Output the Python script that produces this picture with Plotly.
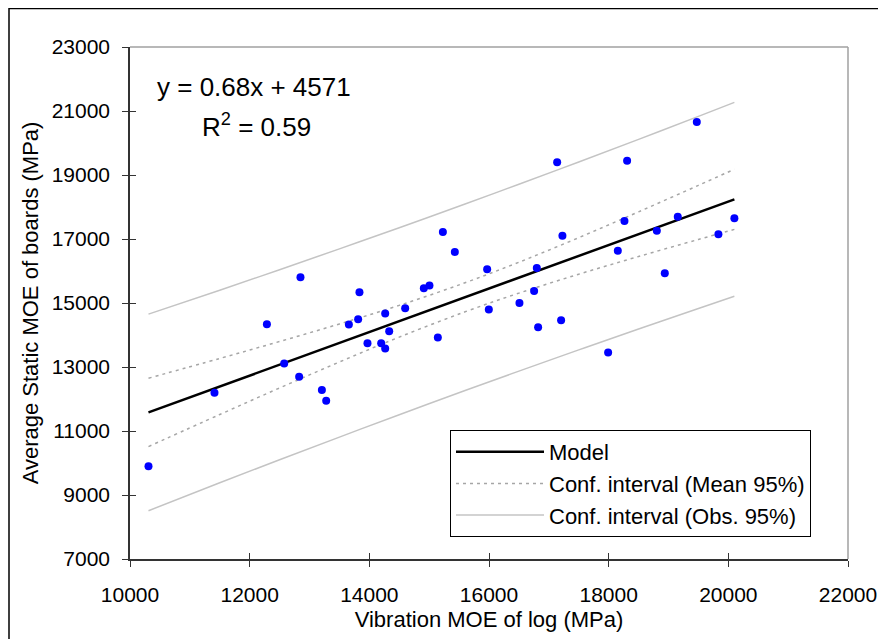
import plotly.graph_objects as go

vib_moe = [10309, 11412, 12288, 12577, 12827, 12849, 13835, 13207, 13279, 13658,
           13813, 13969, 14198, 14265, 14265, 14332, 14599, 14911, 15005, 15145,
           15229, 15429, 15969, 15997, 16509, 16754, 16799, 16821, 17139, 17205,
           17227, 18308, 19473, 18264, 18153, 18805, 19155, 18938, 19834, 20101, 17991]
static_moe = [9895, 12195, 14338, 13109, 12694, 15805, 15337, 12279, 11945, 14326,
              14494, 13745, 13745, 13577, 14669, 14120, 14837, 15461, 15543, 13920,
              17218, 16594, 16054, 14794, 15003, 15377, 16095, 14245, 19402, 14463,
              17103, 19443, 20659, 17561, 16635, 17259, 17695, 15929, 17146, 17645, 13452]

# Model line
model_x = [10309, 20101]
model_y = [11581, 18240]

# Confidence interval curves
ci_x = [10309, 11500, 12500, 13500, 14500, 15600, 16500, 17500, 18500, 19500, 20101]
mean_upper = [12649, 13267, 13797, 14345, 14927, 15633, 16274, 17042, 17849, 18676, 19180]
mean_lower = [10513, 11515, 12345, 13157, 13935, 14725, 15308, 15900, 16453, 16986, 17300]
obs_upper = [14653, 15401, 16041, 16692, 17353, 18094, 18711, 19407, 20114, 20832, 21269]
obs_lower = [8509, 9381, 10101, 10810, 11509, 12264, 12871, 13535, 14188, 14830, 15211]

x_ticks = [10000, 12000, 14000, 16000, 18000, 20000, 22000]
x_tick_text = ["10000", "12000", "14000", "16000", "18000", "20000", "22000"]
y_ticks = [7000, 9000, 11000, 13000, 15000, 17000, 19000, 21000, 23000]
y_tick_text = ["7000", "9000", "11000", "13000", "15000", "17000", "19000", "21000", "23000"]

FONT = "Liberation Sans, Arial, sans-serif"

fig = go.Figure()

obs_style = dict(color="#c4c4c4", width=1.5)
mean_style = dict(color="#a6a6a6", width=1.5, dash="3px,4px")

fig.add_trace(go.Scatter(x=ci_x, y=obs_upper, mode="lines", line=obs_style,
                         name="Conf. interval (Obs. 95%)", legendgroup="obs",
                         legendrank=3, line_shape="spline"))
fig.add_trace(go.Scatter(x=ci_x, y=obs_lower, mode="lines", line=obs_style,
                         name="Conf. interval (Obs. 95%)", legendgroup="obs",
                         showlegend=False, line_shape="spline"))
fig.add_trace(go.Scatter(x=ci_x, y=mean_upper, mode="lines", line=mean_style,
                         name="Conf. interval (Mean 95%)", legendgroup="mean",
                         legendrank=2, line_shape="spline"))
fig.add_trace(go.Scatter(x=ci_x, y=mean_lower, mode="lines", line=mean_style,
                         name="Conf. interval (Mean 95%)", legendgroup="mean",
                         showlegend=False, line_shape="spline"))
fig.add_trace(go.Scatter(x=model_x, y=model_y, mode="lines",
                         line=dict(color="black", width=2.5),
                         name="Model", legendrank=1))
# data points on the overlay axes (which also draw the inner half of the cross ticks)
fig.add_trace(go.Scatter(x=vib_moe, y=static_moe, mode="markers", xaxis="x2", yaxis="y2",
                         marker=dict(color="#0000ff", size=8),
                         showlegend=False, name="Data"))

axis_common = dict(showgrid=False, zeroline=False, showline=True,
                   linecolor="#333333", linewidth=1.5,
                   ticks="outside", ticklen=6, tickcolor="#333333", tickwidth=1,
                   tickfont=dict(family=FONT, size=21, color="black"))

L, R, T, B = 122, 46, 39, 88
W, H = 886, 639
pw, ph = W - L - R, H - T - B

fig.update_layout(
    width=W, height=H,
    margin=dict(l=L, r=R, t=T, b=B, autoexpand=False),
    paper_bgcolor="white", plot_bgcolor="white",
    font=dict(family=FONT, size=21, color="black"),
    xaxis=dict(range=[10000, 22000], tickvals=x_ticks, ticktext=x_tick_text,
               title=dict(text="Vibration MOE of log (MPa)", font=dict(size=22), standoff=7),
               ticklabelstandoff=10,
               **axis_common),
    yaxis=dict(range=[7000, 23000], tickvals=y_ticks, ticktext=y_tick_text,
               title=dict(text="Average Static MOE of boards (MPa)", font=dict(size=22), standoff=7),
               ticklabelstandoff=8,
               **axis_common),
    xaxis2=dict(range=[10000, 22000], tickvals=x_ticks, overlaying="x", side="bottom",
                showgrid=False, zeroline=False, showline=False, ticks="inside", ticklen=6,
                tickcolor="#333333", showticklabels=False),
    yaxis2=dict(range=[7000, 23000], tickvals=y_ticks, overlaying="y", side="left",
                showgrid=False, zeroline=False, showline=False, ticks="inside", ticklen=6,
                tickcolor="#333333", showticklabels=False),
    legend=dict(x=(442 - L) / pw, y=1 - (422 - T) / ph, xanchor="left", yanchor="top",
                bordercolor="black", borderwidth=1, bgcolor="white",
                font=dict(family=FONT, size=22, color="black"),
                itemwidth=88, tracegroupgap=0),
    showlegend=True,
    annotations=[
        dict(text="y = 0.68x + 4571", xref="paper", yref="paper",
             x=(246 - L) / pw, y=1 - (79 - T) / ph,
             showarrow=False, font=dict(family=FONT, size=26, color="black"),
             xanchor="center", yanchor="middle"),
        dict(text="R<sup>2</sup> = 0.59", xref="paper", yref="paper",
             x=(248 - L) / pw, y=1 - (117 - T) / ph,
             showarrow=False, font=dict(family=FONT, size=26, color="black"),
             xanchor="center", yanchor="middle"),
    ],
    shapes=[
        dict(type="line", xref="paper", yref="paper", x0=0, x1=1, y0=1, y1=1,
             line=dict(color="#a0a0a0", width=1.5)),
        dict(type="line", xref="paper", yref="paper", x0=1, x1=1, y0=0, y1=1,
             line=dict(color="#a0a0a0", width=1.5)),
        dict(type="rect", xref="paper", yref="paper",
             x0=(1 - L) / pw, x1=1.2, y0=-0.3, y1=1 + (T - 0.5) / ph,
             line=dict(color="black", width=1.5)),
    ],
)

fig.write_html("out.html")
